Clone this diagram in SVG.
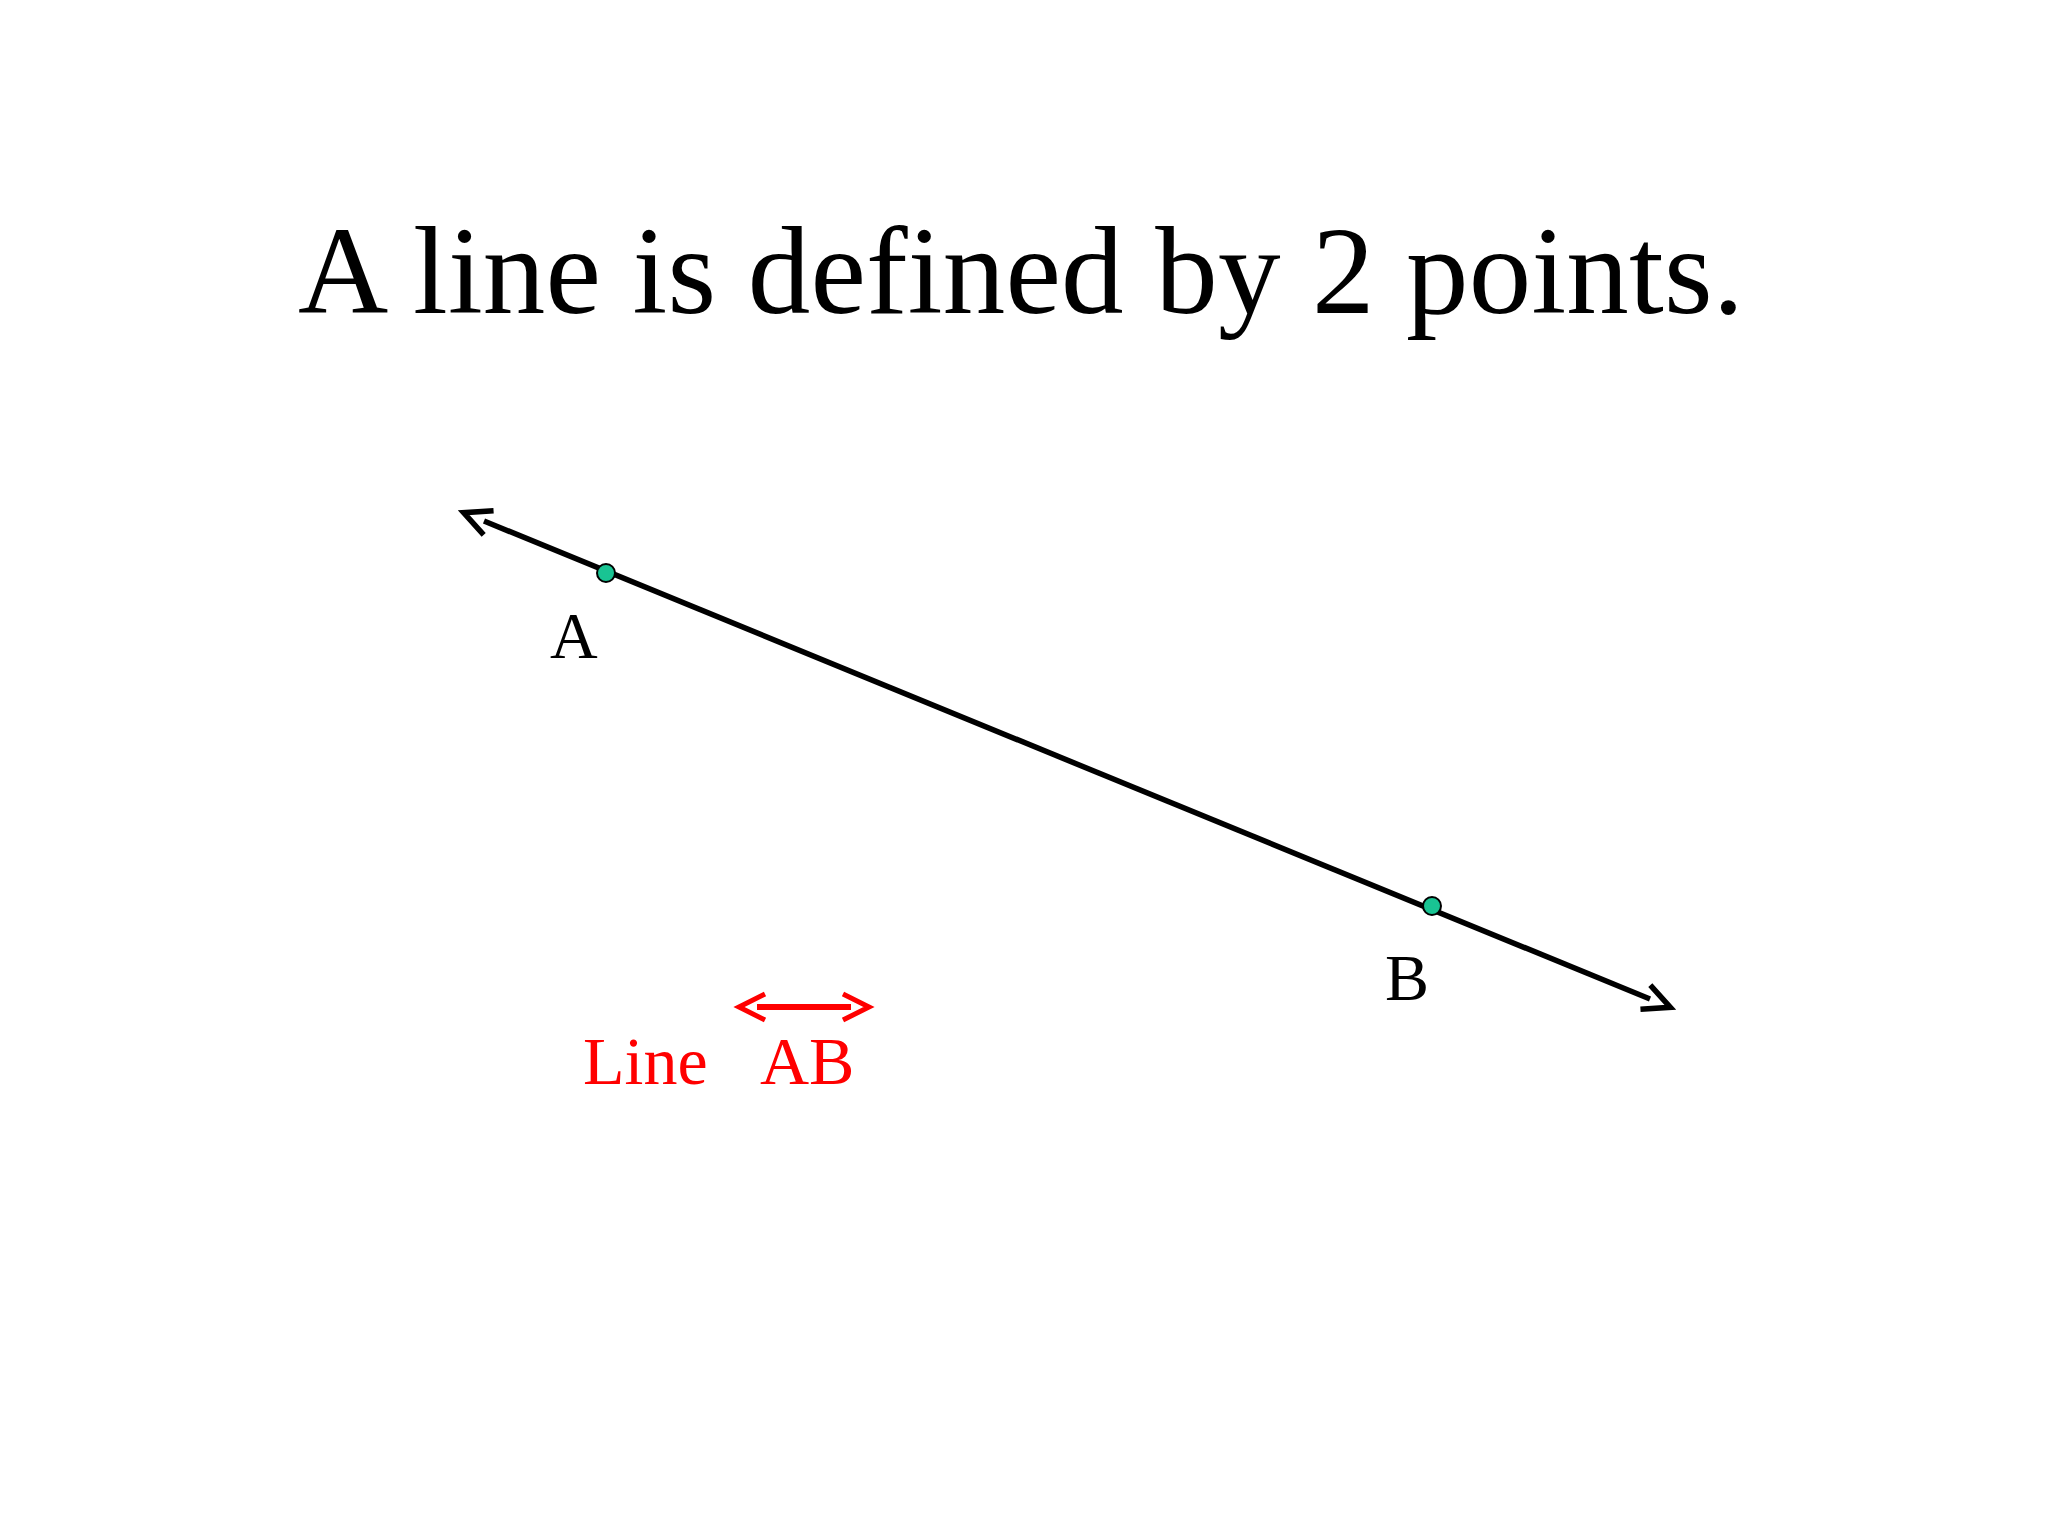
<svg xmlns="http://www.w3.org/2000/svg" width="2048" height="1536" viewBox="0 0 2048 1536">
<style>
.serif{font-family:"Liberation Serif","Times New Roman",serif}
.pt{fill:#19c493;stroke:#000;stroke-width:2}
</style>
<defs>
<marker id="openK" markerUnits="userSpaceOnUse" orient="auto-start-reverse" refX="-22" refY="0" markerWidth="40" markerHeight="40" overflow="visible">
<path d="M-27,-13 L0,0 L-27,13" fill="none" stroke="#000" stroke-width="5.5"/>
</marker>
<marker id="openR" markerUnits="userSpaceOnUse" orient="auto-start-reverse" refX="-18" refY="0" markerWidth="40" markerHeight="40" overflow="visible">
<path d="M-26,-13 L0,0 L-26,13" fill="none" stroke="#f00" stroke-width="5"/>
</marker>
</defs>
<rect width="2048" height="1536" fill="#fff"/>
<text class="serif" x="298" y="313" font-size="125" fill="#000" textLength="1446" lengthAdjust="spacing">A line is defined by 2 points.</text>
<g id="connectors">
<line id="lineAB" x1="484" y1="521" x2="1650" y2="999" stroke="#000" stroke-width="5.5" marker-start="url(#openK)" marker-end="url(#openK)"/>
<line id="symbol" x1="757" y1="1007" x2="851" y2="1007" stroke="#f00" stroke-width="6" marker-start="url(#openR)" marker-end="url(#openR)"/>
</g>
<g id="pointA">
<circle class="pt" cx="606" cy="573" r="9"/>
<text class="serif" x="550" y="658" font-size="66" fill="#000">A</text>
</g>
<g id="pointB">
<circle class="pt" cx="1432" cy="906" r="9"/>
<text class="serif" x="1385" y="1000" font-size="66" fill="#000">B</text>
</g>
<g id="label">
<text class="serif" font-size="68" fill="#f00"><tspan x="583" y="1084">Line</tspan><tspan x="760" y="1084">AB</tspan></text>
</g>
</svg>
